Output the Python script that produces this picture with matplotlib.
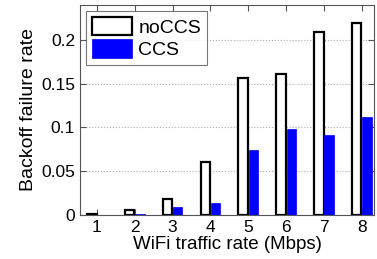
import numpy as np
import matplotlib.pyplot as plt

plt.rcParams['font.family'] = ['Liberation Sans', 'DejaVu Sans']

rates = [1, 2, 3, 4, 5, 6, 7, 8]
no_ccs = [0.001, 0.006, 0.018, 0.060, 0.157, 0.161, 0.209, 0.219]
ccs = [0.0002, 0.0008, 0.0095, 0.0134, 0.074, 0.098, 0.091, 0.112]
yticks = [0, 0.05, 0.1, 0.15, 0.2]
ytick_labels = ['0', '0.05', '0.1', '0.15', '0.2']

x = np.array(rates)
w = 0.25

fig = plt.figure(figsize=(3.77, 2.59), dpi=100)
ax = fig.add_axes([0.212, 0.170, 0.78, 0.811])

ax.bar(x - 0.135, no_ccs, w, color='white', edgecolor='black', linewidth=1.6, label='noCCS', zorder=3)
ax.bar(x + 0.135, ccs, w, color='#0000ff', edgecolor='#0000ff', linewidth=0.5, label='CCS', zorder=3)

ax.set_xlim(0.55, 8.32)
ax.set_ylim(0, 0.24)
ax.set_xticks(rates)
ax.set_yticks(yticks)
ax.set_yticklabels(ytick_labels)
ax.yaxis.grid(True, linestyle=':', color='#aaaaaa', linewidth=0.8)
ax.tick_params(direction='in', top=True, right=True, labelsize=12.5, length=4, color='#555555')
for s in ax.spines.values():
    s.set_color('#555555')
    s.set_zorder(4)

ax.set_xlabel('WiFi traffic rate (Mbps)', fontsize=13.5, labelpad=1)
ax.set_ylabel('Backoff failure rate', fontsize=14, labelpad=3)

leg = ax.legend(loc='upper left', fontsize=14, frameon=True, fancybox=False,
                edgecolor='#555555', handlelength=2.1, handleheight=1.1,
                handletextpad=0.3, borderpad=0.3, labelspacing=0.15,
                borderaxespad=0.3)
leg.get_frame().set_linewidth(0.8)

fig.savefig('out.png', dpi=100)
